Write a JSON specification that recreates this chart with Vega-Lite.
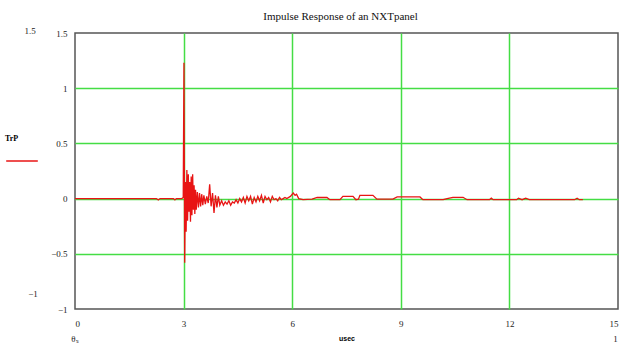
{
  "$schema": "https://vega.github.io/schema/vega-lite/v6.json",
  "width": 543,
  "height": 276,
  "autosize": {"type": "none"},
  "padding": {"left": 75, "top": 33, "right": 2, "bottom": 38},
  "background": "white",
  "title": {"text": "Impulse Response of an NXTpanel", "font": "Liberation Serif", "fontSize": 11, "fontWeight": "normal", "color": "#111", "offset": 5, "dx": -6},
  "config": {
    "view": {"stroke": "#555", "strokeWidth": 1.5},
    "axis": {"labelFont": "Liberation Serif", "labelFontSize": 9, "labelColor": "#222", "ticks": false, "domain": false, "gridWidth": 1.5}
  },
  "layer": [
    {
      "data": {"values": [
        {"t": 0, "v": 0}, {"t": 2.25, "v": 0}, {"t": 2.3, "v": -0.012}, {"t": 2.35, "v": 0},
        {"t": 2.72, "v": 0}, {"t": 2.76, "v": -0.012}, {"t": 2.8, "v": 0}, {"t": 2.95, "v": 0},
        {"t": 2.99, "v": 0.01}, {"t": 3.01, "v": 1.23}, {"t": 3.03, "v": -0.58}, {"t": 3.05, "v": 0.15},
        {"t": 3.07, "v": -0.3}, {"t": 3.09, "v": 0.26}, {"t": 3.11, "v": -0.2}, {"t": 3.13, "v": 0.22},
        {"t": 3.15, "v": -0.12}, {"t": 3.17, "v": 0.15}, {"t": 3.19, "v": -0.21}, {"t": 3.21, "v": 0.2},
        {"t": 3.23, "v": -0.15}, {"t": 3.25, "v": 0.22}, {"t": 3.27, "v": -0.1}, {"t": 3.29, "v": 0.12},
        {"t": 3.31, "v": -0.14}, {"t": 3.33, "v": 0.08}, {"t": 3.35, "v": -0.1}, {"t": 3.38, "v": 0.06},
        {"t": 3.41, "v": -0.08}, {"t": 3.44, "v": 0.05}, {"t": 3.47, "v": -0.07}, {"t": 3.5, "v": 0.04},
        {"t": 3.53, "v": -0.06}, {"t": 3.56, "v": 0.03}, {"t": 3.6, "v": -0.05}, {"t": 3.64, "v": 0.02},
        {"t": 3.68, "v": -0.04}, {"t": 3.72, "v": 0.13}, {"t": 3.76, "v": -0.07}, {"t": 3.8, "v": 0.05},
        {"t": 3.84, "v": -0.13}, {"t": 3.88, "v": 0.03}, {"t": 3.92, "v": -0.08}, {"t": 3.96, "v": 0.02},
        {"t": 4.0, "v": -0.06}, {"t": 4.05, "v": -0.02}, {"t": 4.1, "v": -0.06}, {"t": 4.15, "v": -0.03},
        {"t": 4.2, "v": -0.05}, {"t": 4.25, "v": -0.02}, {"t": 4.3, "v": -0.06}, {"t": 4.35, "v": -0.03},
        {"t": 4.4, "v": -0.04}, {"t": 4.45, "v": -0.01}, {"t": 4.5, "v": -0.04}, {"t": 4.55, "v": 0.0},
        {"t": 4.6, "v": -0.03}, {"t": 4.65, "v": 0.01}, {"t": 4.7, "v": -0.04}, {"t": 4.75, "v": 0.02},
        {"t": 4.8, "v": -0.02}, {"t": 4.85, "v": 0.02}, {"t": 4.9, "v": -0.05}, {"t": 4.95, "v": 0.01},
        {"t": 5.0, "v": -0.03}, {"t": 5.05, "v": 0.02}, {"t": 5.1, "v": -0.02}, {"t": 5.15, "v": 0.03},
        {"t": 5.2, "v": -0.04}, {"t": 5.25, "v": 0.02}, {"t": 5.3, "v": -0.01}, {"t": 5.35, "v": 0.01},
        {"t": 5.4, "v": -0.03}, {"t": 5.45, "v": 0.02}, {"t": 5.5, "v": -0.01}, {"t": 5.55, "v": 0.0},
        {"t": 5.6, "v": -0.02}, {"t": 5.65, "v": 0.01}, {"t": 5.7, "v": -0.01}, {"t": 5.75, "v": 0.0},
        {"t": 5.8, "v": 0.01}, {"t": 5.85, "v": 0.0}, {"t": 5.95, "v": 0.02}, {"t": 6.03, "v": 0.05},
        {"t": 6.08, "v": 0.03}, {"t": 6.12, "v": 0.04}, {"t": 6.18, "v": 0.0}, {"t": 6.3, "v": -0.01},
        {"t": 6.55, "v": -0.005}, {"t": 6.69, "v": 0.01}, {"t": 6.96, "v": 0.01}, {"t": 7.04, "v": -0.01},
        {"t": 7.32, "v": -0.01}, {"t": 7.4, "v": 0.02}, {"t": 7.68, "v": 0.02}, {"t": 7.76, "v": -0.01},
        {"t": 7.83, "v": -0.005}, {"t": 7.87, "v": 0.03}, {"t": 8.23, "v": 0.03}, {"t": 8.34, "v": -0.005},
        {"t": 8.78, "v": -0.005}, {"t": 8.9, "v": 0.015}, {"t": 9.53, "v": 0.015}, {"t": 9.61, "v": -0.01},
        {"t": 10.17, "v": -0.01}, {"t": 10.28, "v": 0.0}, {"t": 10.44, "v": 0.012}, {"t": 10.72, "v": 0.012},
        {"t": 10.83, "v": -0.01}, {"t": 11.45, "v": -0.01}, {"t": 11.5, "v": 0.004}, {"t": 11.55, "v": -0.01},
        {"t": 12.2, "v": -0.01}, {"t": 12.25, "v": 0.003}, {"t": 12.35, "v": -0.01}, {"t": 12.45, "v": 0.003},
        {"t": 12.55, "v": -0.01}, {"t": 13.8, "v": -0.01}, {"t": 13.87, "v": 0.004}, {"t": 13.93, "v": -0.01},
        {"t": 14.03, "v": -0.01}
      ]},
      "mark": {"type": "line", "strokeWidth": 1.3, "interpolate": "linear"},
      "encoding": {
        "x": {"field": "t", "type": "quantitative", "scale": {"domain": [0, 15], "nice": false, "zero": false},
          "axis": {"values": [0, 3, 6, 9, 12, 15], "title": "usec", "titleFont": "Liberation Sans", "titleFontSize": 7, "titleFontWeight": "bold", "titlePadding": 6, "labelPadding": 10,
            "gridColor": {"condition": {"test": "datum.value === 0 || datum.value === 15", "value": "transparent"}, "value": "#44dd44"}}},
        "y": {"field": "v", "type": "quantitative", "scale": {"domain": [-1, 1.5], "nice": false, "zero": false},
          "axis": {"values": [-1, -0.5, 0, 0.5, 1, 1.5], "format": "~g", "title": null, "labelPadding": 8,
            "gridColor": {"condition": {"test": "datum.value === -1 || datum.value === 1.5", "value": "transparent"}, "value": "#44dd44"}}},
        "color": {"datum": "TrP", "scale": {"range": ["#e81414"]},
          "legend": {"orient": "none", "legendX": -70, "legendY": 102, "title": "TrP", "titleFont": "Liberation Serif", "titleFontSize": 8, "titleFontWeight": "bold", "titlePadding": 1, "labelExpr": "''", "symbolType": "stroke", "symbolSize": 1000, "symbolStrokeWidth": 1.5}}
      }
    },
    {
      "data": {"values": [
        {"t": -1.24, "v": 1.52, "s": "1.5"},
        {"t": -1.16, "v": -0.86, "s": "−1"},
        {"t": 0, "v": -1.27, "s": "θₛ"},
        {"t": 14.93, "v": -1.27, "s": "1"}
      ]},
      "mark": {"type": "text", "font": "Liberation Serif", "fontSize": 9, "color": "#222", "align": "center", "baseline": "middle"},
      "encoding": {
        "x": {"field": "t", "type": "quantitative"},
        "y": {"field": "v", "type": "quantitative"},
        "text": {"field": "s"}
      }
    }
  ]
}
